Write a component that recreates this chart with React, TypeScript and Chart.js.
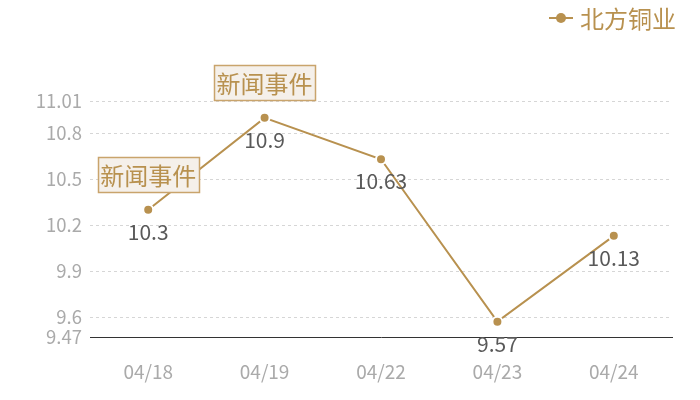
import { useEffect, useRef } from "react";
import Chart from "chart.js/auto";

const dates = ["04/18", "04/19", "04/22", "04/23", "04/24"];
const prices = [10.3, 10.9, 10.63, 9.57, 10.13];
const yTicks = [9.47, 9.6, 9.9, 10.2, 10.5, 10.8, 11.01];
const eventIndexes = [0, 1];
const eventLabel = "新闻事件";
const seriesName = "北方铜业";

const GOLD = "#b8914f";
const FONT = "'Noto Sans CJK SC', 'Noto Sans', sans-serif";

const overlayPlugin = {
  id: "overlay",
  afterDatasetsDraw(chart: any) {
    const { ctx } = chart;
    const meta = chart.getDatasetMeta(0);
    ctx.save();

    // value labels under points
    ctx.font = `21px ${FONT}`;
    ctx.fillStyle = "#595959";
    ctx.textAlign = "center";
    ctx.textBaseline = "middle";
    meta.data.forEach((pt: any, i: number) => {
      ctx.fillText(String(prices[i]), pt.x, pt.y + 22);
    });

    // event boxes
    ctx.font = `24px ${FONT}`;
    eventIndexes.forEach((i) => {
      const pt = meta.data[i];
      const w = 101;
      const h = 35;
      const x = Math.round(pt.x - w / 2) + 0.5;
      const y = Math.round(pt.y - 18 - h) + 0.5;
      ctx.fillStyle = "#f5f0ea";
      ctx.fillRect(x, y, w, h);
      ctx.strokeStyle = "#c9a46c";
      ctx.lineWidth = 1.5;
      ctx.strokeRect(x, y, w, h);
      ctx.fillStyle = GOLD;
      ctx.fillText(eventLabel, pt.x, y + h / 2 + 1);
    });

    // legend
    const lx = 549;
    const ly = 18;
    ctx.strokeStyle = GOLD;
    ctx.lineWidth = 2;
    ctx.beginPath();
    ctx.moveTo(lx, ly);
    ctx.lineTo(lx + 24, ly);
    ctx.stroke();
    ctx.fillStyle = GOLD;
    ctx.beginPath();
    ctx.arc(lx + 12, ly, 5, 0, Math.PI * 2);
    ctx.fill();
    ctx.font = `24px ${FONT}`;
    ctx.textAlign = "left";
    ctx.fillText(seriesName, lx + 31, ly + 1);

    ctx.restore();
  },
};

const App = () => {
  const chartRef = useRef<HTMLCanvasElement>(null);

  useEffect(() => {
    document.body.style.margin = "0";
    const ctx = chartRef.current?.getContext("2d");
    if (!ctx) return;

    const chart = new Chart(ctx, {
      type: "line",
      data: {
        labels: dates,
        datasets: [
          {
            label: seriesName,
            data: prices,
            borderColor: GOLD,
            borderWidth: 2,
            backgroundColor: GOLD,
            pointBackgroundColor: GOLD,
            pointBorderColor: "#fff",
            pointBorderWidth: 2,
            pointRadius: 5,
            tension: 0,
          },
        ],
      },
      options: {
        animation: false,
        responsive: false,
        layout: { padding: { top: 101, right: 28, left: 0, bottom: 0 } },
        plugins: {
          legend: { display: false },
          tooltip: { enabled: false },
        },
        scales: {
          x: {
            offset: true,
            grid: { display: false, drawTicks: false },
            border: { display: true, color: "#333", width: 1 },
            ticks: {
              color: "#aaa",
              font: { family: FONT, size: 19 },
              padding: 23,
            },
            afterFit(scale: any) {
              scale.height = 63;
            },
          },
          y: {
            min: 9.47,
            max: 11.01,
            afterBuildTicks(scale: any) {
              scale.ticks = yTicks.map((v) => ({ value: v }));
            },
            afterFit(scale: any) {
              scale.width = 90;
            },
            grid: {
              color: "#d6d6d6",
              drawTicks: false,
            },
            border: { display: false, dash: [3, 3] },
            ticks: {
              color: "#aaa",
              font: { family: FONT, size: 18.5 },
              padding: 8,
              callback: (v: any) => String(v),
            },
          },
        },
      },
      plugins: [overlayPlugin],
    });

    return () => {
      chart.destroy();
    };
  }, []);

  return <canvas ref={chartRef} width={700} height={400} />;
};

export default App;
